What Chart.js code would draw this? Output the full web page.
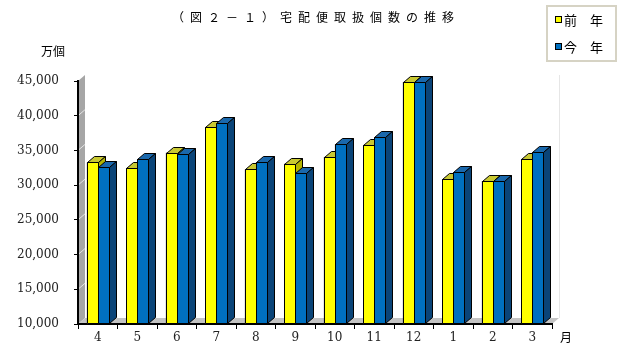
<!DOCTYPE html>
<html>
<head>
<meta charset="utf-8">
<script src="https://cdn.jsdelivr.net/npm/chart.js@4"></script>
<style>
  html, body { margin: 0; padding: 0; background: #fff; }
  #wrap { width: 635px; height: 360px; position: relative; }
</style>
</head>
<body>
<div id="wrap"><canvas id="chart" width="635" height="360"></canvas></div>
<script>
// data (万個)
const months = ['4', '5', '6', '7', '8', '9', '10', '11', '12', '1', '2', '3'];
const lastYear = [33300, 32500, 34700, 38400, 32300, 33100, 34100, 35800, 44900, 30900, 30600, 33800];
const thisYear = [32600, 33800, 34500, 38900, 33300, 31800, 35900, 36900, 44900, 31900, 30600, 34800];
const seriesNames = ['前　年', '今　年'];
const yMin = 10000;
const yMax = 45000;
const yStep = 5000;

const titleText = '（図２－１）宅配便取扱個数の推移';
const unitText = '万個';
const monthUnit = '月';

const faces = [
    { front: '#ffff00', top: '#c8c832', side: '#b4b400' },
    { front: '#0070c0', top: '#1a68ac', side: '#0a4478' }
];
const dx = 7, dy = 6;
const serif = "'DejaVu Serif', 'Liberation Serif', serif";
const jp = "'Noto Sans CJK JP', sans-serif";

// grey wall on the left and floor under the bars
const wallPlugin = {
    id: 'wall',
    beforeDraw(chart) {
        const { ctx, chartArea: a, scales } = chart;
        ctx.save();
        ctx.fillStyle = '#a6a6a6';
        ctx.beginPath();
        ctx.moveTo(a.left, a.bottom);
        ctx.lineTo(a.left, a.top);
        ctx.lineTo(a.left + dx, a.top - dy);
        ctx.lineTo(a.left + dx, a.bottom - dy);
        ctx.closePath();
        ctx.fill();

        ctx.strokeStyle = 'rgba(255,255,255,0.7)';
        ctx.lineWidth = 1;
        for (let v = yMin + yStep; v < yMax; v += yStep) {
            const y = scales.y.getPixelForValue(v);
            ctx.beginPath();
            ctx.moveTo(a.left, y);
            ctx.lineTo(a.left + dx, y - dy);
            ctx.stroke();
        }

        ctx.fillStyle = '#c4c4c4';
        ctx.beginPath();
        ctx.moveTo(a.left, a.bottom);
        ctx.lineTo(a.right, a.bottom);
        ctx.lineTo(a.right + dx, a.bottom - dy);
        ctx.lineTo(a.left + dx, a.bottom - dy);
        ctx.closePath();
        ctx.fill();

        ctx.strokeStyle = '#e6e6e6';
        ctx.beginPath();
        ctx.moveTo(a.right + dx + 0.5, a.top - dy);
        ctx.lineTo(a.right + dx + 0.5, a.bottom - dy);
        ctx.stroke();
        ctx.restore();
    }
};

// draw each bar again as a box: front, top and side faces
const boxPlugin = {
    id: 'boxes',
    afterDatasetsDraw(chart) {
        const { ctx, chartArea: a } = chart;
        const metas = chart.data.datasets.map((d, i) => chart.getDatasetMeta(i));
        ctx.save();
        ctx.strokeStyle = '#000';
        ctx.lineWidth = 1;
        ctx.lineJoin = 'round';
        for (let j = 0; j < months.length; j++) {
            metas.forEach((meta, i) => {
                const el = meta.data[j];
                const c = faces[i];
                const L = Math.round(el.x - el.width / 2) + 0.5;
                const R = Math.round(el.x + el.width / 2) + 0.5;
                const T = Math.round(el.y) + 0.5;
                const B = Math.round(Math.min(el.base, a.bottom)) - 0.5;

                ctx.fillStyle = c.front;
                ctx.fillRect(L, T, R - L, B - T);
                ctx.strokeRect(L, T, R - L, B - T);

                ctx.fillStyle = c.top;
                ctx.beginPath();
                ctx.moveTo(L, T);
                ctx.lineTo(R, T);
                ctx.lineTo(R + dx, T - dy);
                ctx.lineTo(L + dx, T - dy);
                ctx.closePath();
                ctx.fill();
                ctx.stroke();

                ctx.fillStyle = c.side;
                ctx.beginPath();
                ctx.moveTo(R, T);
                ctx.lineTo(R + dx, T - dy);
                ctx.lineTo(R + dx, B - dy);
                ctx.lineTo(R, B);
                ctx.closePath();
                ctx.fill();
                ctx.stroke();
            });
        }
        ctx.restore();
    }
};

// title, unit labels and the boxed legend
const textPlugin = {
    id: 'texts',
    afterDraw(chart) {
        const { ctx, chartArea: a } = chart;
        ctx.save();
        ctx.fillStyle = '#000';
        ctx.textBaseline = 'middle';

        ctx.font = '12px ' + jp;
        ctx.letterSpacing = '6px';
        ctx.textAlign = 'center';
        ctx.fillText(titleText, 316, 17);
        ctx.letterSpacing = '0px';

        ctx.textAlign = 'left';
        ctx.fillText(unitText, 41, 51);
        ctx.fillText(monthUnit, a.right + 8, 337);

        // legend box
        ctx.strokeStyle = '#d6d3c4';
        ctx.lineWidth = 2;
        ctx.fillStyle = '#fff';
        ctx.fillRect(547, 6, 69, 55);
        ctx.strokeRect(547, 6, 69, 55);
        chart.data.datasets.forEach((ds, i) => {
            const y = 20 + i * 27;
            ctx.fillStyle = faces[i].front;
            ctx.fillRect(555.5, y - 3.5, 6, 6);
            ctx.strokeStyle = '#000';
            ctx.lineWidth = 1;
            ctx.strokeRect(555.5, y - 3.5, 6, 6);
            ctx.fillStyle = '#000';
            ctx.font = '13px ' + jp;
            ctx.fillText(ds.label, 564, y);
        });
        ctx.restore();
    }
};

new Chart(document.getElementById('chart'), {
    type: 'bar',
    data: {
        labels: months,
        datasets: [
            { label: seriesNames[0], data: lastYear, backgroundColor: faces[0].front, borderColor: '#000', borderWidth: 1 },
            { label: seriesNames[1], data: thisYear, backgroundColor: faces[1].front, borderColor: '#000', borderWidth: 1 }
        ]
    },
    options: {
        responsive: false,
        animation: false,
        events: [],
        layout: { padding: { left: 0, right: 83, top: 81, bottom: 0 } },
        categoryPercentage: 0.56,
        barPercentage: 1,
        plugins: {
            legend: { display: false },
            title: { display: false },
            tooltip: { enabled: false }
        },
        scales: {
            x: {
                afterFit: s => { s.height = 36; },
                border: { color: '#000', width: 2 },
                grid: { drawOnChartArea: false, drawTicks: true, tickLength: 5, color: '#000' },
                ticks: { color: '#222', font: { family: serif, size: 12 }, padding: 2 }
            },
            y: {
                min: yMin,
                max: yMax,
                afterFit: s => { s.width = 78; },
                border: { color: '#000', width: 2 },
                grid: { drawOnChartArea: false, drawTicks: true, tickLength: 4, color: '#000' },
                ticks: {
                    stepSize: yStep,
                    color: '#222',
                    font: { family: serif, size: 12 },
                    padding: 15,
                    callback: v => v.toLocaleString('en-US')
                }
            }
        }
    },
    plugins: [wallPlugin, boxPlugin, textPlugin]
});
</script>
</body>
</html>
